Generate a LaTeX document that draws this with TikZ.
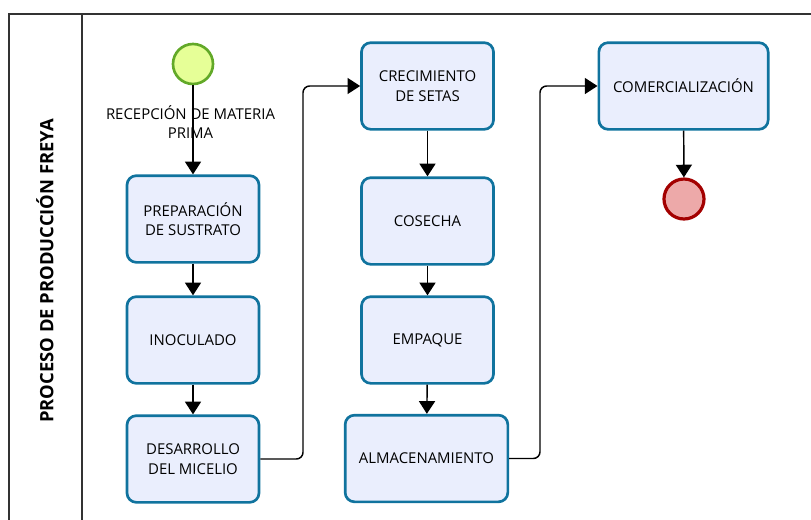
\documentclass[tikz,border=0pt]{standalone}
\usepackage{fontspec}
\setmainfont{Open Sans}
\usetikzlibrary{arrows.meta}
\definecolor{boxline}{HTML}{10739E}
\definecolor{boxfill}{HTML}{EAEEFD}
\definecolor{startline}{HTML}{62A928}
\definecolor{startfill}{HTML}{E6FF97}
\definecolor{endline}{HTML}{A30000}
\definecolor{endfill}{HTML}{EDA9A9}

\begin{document}
\begin{tikzpicture}[x=0.75pt, y=-0.75pt,
  task/.style={draw=boxline, fill=boxfill, line width=2pt, rounded corners=7pt,
    minimum width=99pt, minimum height=65pt, align=center, font=\fontsize{11.2}{14.5}\selectfont},
  event/.style={circle, minimum size=30pt, inner sep=0pt},
  flow/.style={-{Triangle[length=9.5pt,width=12pt]}, line width=1.1pt, rounded corners=5pt}]
\useasboundingbox (0,0) rectangle (811,519);
\clip (0,0) rectangle (811,519);

% pool and lane
\draw[line width=0.9pt, black!80] (9,14) rectangle (830,540);
\draw[line width=0.9pt, black!80] (82,14) -- (82,540);
\node[rotate=90, font=\bfseries\fontsize{13.8}{16}\selectfont] (pool) at (45,271) {PROCESO DE PRODUCCIÓN FREYA};

% events
\node[event, line width=2pt, draw=startline, fill=startfill] (start) at (193,64) {};
\node[event, line width=2.4pt, draw=endline, fill=endfill] (fin) at (684,199) {};

% tasks
\node[task] (prep) at (193,219) {PREPARACIÓN\\DE SUSTRATO};
\node[task] (inoc) at (193,340) {INOCULADO};
\node[task] (desa) at (193,459) {DESARROLLO\\DEL MICELIO};
\node[task] (crec) at (427.5,86) {CRECIMIENTO\\DE SETAS};
\node[task] (cose) at (427.5,221) {COSECHA};
\node[task] (empa) at (427.5,340) {EMPAQUE};
\node[task, minimum width=122pt] (alma) at (426.5,458.5) {ALMACENAMIENTO};
\node[task, minimum width=127pt] (come) at (683.5,86) {COMERCIALIZACIÓN};

% flows
\draw[flow] (start) -- (prep);
\node[align=center, font=\fontsize{11.2}{14.5}\selectfont] (recep) at (190.5,122) {RECEPCIÓN DE MATERIA\\PRIMA};
\draw[flow] (prep) -- (inoc);
\draw[flow] (inoc) -- (desa);
\draw[flow] (desa.east) -| (303,86) -- (crec.west);
\draw[flow] (crec) -- (cose);
\draw[flow] (cose) -- (empa);
\draw[flow] (empa) -- (alma);
\draw[flow] (alma.east) -| (540,86) -- (come.west);
\draw[flow] (come) -- (fin);
\end{tikzpicture}
\end{document}
